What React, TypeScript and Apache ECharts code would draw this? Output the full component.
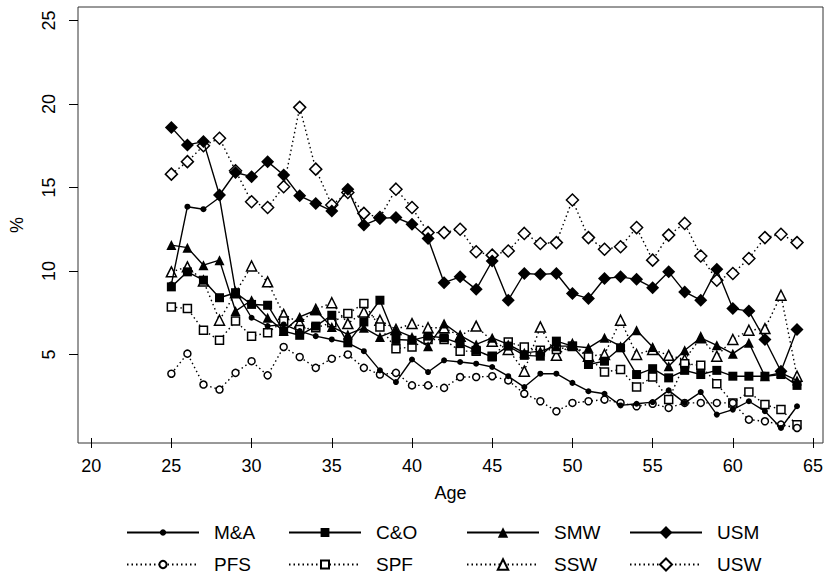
import React, { useEffect, useRef } from "react";
import * as echarts from "echarts";

const ages = [25,26,27,28,29,30,31,32,33,34,35,36,37,38,39,40,41,42,43,44,45,46,47,48,49,50,51,52,53,54,55,56,57,58,59,60,61,62,63,64];

const MA = [9.2,13.85,13.7,14.4,8.8,7.2,6.7,6.8,6.4,6.1,5.9,5.7,5.2,4.05,3.35,4.7,3.95,4.65,4.55,4.45,4.25,3.7,3.05,3.85,3.85,3.3,2.8,2.65,1.95,2.05,2.15,2.85,2.1,2.75,1.4,1.7,2.2,1.6,0.6,1.9];
const CO = [9.05,9.95,9.45,8.4,8.7,8.0,7.95,6.4,6.15,6.7,7.35,5.7,6.95,8.25,5.9,5.85,6.1,6.0,5.65,5.25,4.85,5.5,4.95,4.9,5.8,5.5,4.4,4.6,5.4,3.8,4.15,3.6,4.05,3.8,4.05,3.7,3.7,3.7,3.8,3.15];
const SMW = [11.55,11.4,10.35,10.65,7.6,8.25,7.2,6.4,7.25,7.65,6.65,6.2,6.6,6.05,6.45,6.05,5.5,6.85,6.15,5.6,6.0,5.6,5.1,5.2,5.5,5.5,5.4,6.0,5.5,6.45,5.45,4.3,5.25,6.0,5.55,5.05,5.7,3.7,3.9,3.45];
const USM = [18.6,17.55,17.75,14.55,15.9,15.65,16.55,15.75,14.5,14.05,13.6,14.9,12.75,13.15,13.2,12.8,11.95,9.3,9.65,8.9,10.6,8.25,9.85,9.8,9.85,8.65,8.35,9.55,9.65,9.5,9.0,9.95,8.75,8.25,10.1,7.75,7.6,5.9,4.0,6.5];
const PFS = [3.85,5.05,3.2,2.9,3.9,4.6,3.75,5.45,4.85,4.2,4.75,5.0,4.2,3.8,3.9,3.15,3.15,3.0,3.65,3.65,3.7,3.45,2.65,2.2,1.6,2.1,2.2,2.3,2.1,1.9,2.05,1.8,2.1,2.1,2.1,2.1,1.1,1.0,0.8,0.6];
const SPF = [7.85,7.75,6.45,5.85,7.0,6.1,6.3,7.0,6.5,6.6,6.9,7.45,8.05,6.65,5.35,5.45,5.9,5.9,5.2,5.2,4.9,5.75,5.45,5.25,5.3,5.5,4.85,3.95,4.1,3.05,3.65,2.3,4.45,4.35,3.25,2.1,2.75,2.0,1.7,0.8];
const SSW = [9.95,10.25,9.4,7.05,8.7,10.3,9.35,7.4,6.9,7.7,8.1,6.85,7.55,7.05,6.5,6.85,6.6,6.6,6.1,6.7,5.8,5.3,4.0,6.65,4.95,5.6,4.9,5.0,7.05,5.0,5.3,4.95,4.7,6.0,4.9,5.9,6.45,6.55,8.55,3.7];
const USW = [15.8,16.55,17.5,17.95,16.0,14.15,13.8,15.05,19.8,16.1,13.95,14.7,13.45,13.2,14.9,13.8,12.3,12.3,12.5,11.15,10.95,11.2,12.25,11.65,11.7,14.25,12.0,11.3,11.45,12.6,10.65,12.15,12.85,10.9,9.45,9.85,10.75,12.0,12.2,11.7];

const xTicks = [20,25,30,35,40,45,50,55,60,65];
const yTicks = [5,10,15,20,25];

const FONT = "'Liberation Sans', Arial, sans-serif";

type Spec = { name: string; values: number[]; symbol: string; size: number; filled: boolean; dotted: boolean };

const specs: Spec[] = [
  { name: "M&A", values: MA, symbol: "circle", size: 6, filled: true, dotted: false },
  { name: "C&O", values: CO, symbol: "rect", size: 9, filled: true, dotted: false },
  { name: "SMW", values: SMW, symbol: "triangle", size: 10, filled: true, dotted: false },
  { name: "USM", values: USM, symbol: "diamond", size: 13, filled: true, dotted: false },
  { name: "PFS", values: PFS, symbol: "circle", size: 7, filled: false, dotted: true },
  { name: "SPF", values: SPF, symbol: "rect", size: 8, filled: false, dotted: true },
  { name: "SSW", values: SSW, symbol: "triangle", size: 10, filled: false, dotted: true },
  { name: "USW", values: USW, symbol: "diamond", size: 12, filled: false, dotted: true },
];

const legendCols = [126, 288, 466, 629];
const legendRows = [523, 555];

export default function App() {
  const ref = useRef<HTMLDivElement>(null);
  useEffect(() => {
    if (!ref.current) return;
    const chart = echarts.init(ref.current, null, { renderer: "svg" });
    const series = specs.map((s, i) => ({
      type: "line",
      name: s.name,
      data: ages.map((a, j) => [a, s.values[j]]),
      symbol: s.symbol,
      symbolSize: s.size,
      showSymbol: true,
      z: 10 - i,
      lineStyle: { color: "#000", width: 1.4, type: s.dotted ? [1.5, 3] : "solid" },
      itemStyle: s.filled
        ? { color: "#000", borderColor: "#000", borderWidth: 0 }
        : { color: "#fff", borderColor: "#000", borderWidth: 1.5 },
      emphasis: { disabled: true },
    }));
    const legends = specs.map((s, i) => ({
      data: [s.name],
      left: legendCols[i % 4],
      top: legendRows[Math.floor(i / 4)],
      padding: 0,
      itemWidth: 72,
      itemHeight: Math.round(s.size / 0.8),
      selectedMode: false,
      textStyle: { fontSize: 19, fontFamily: FONT, color: "#000", padding: [0, 0, 0, 10] },
    }));
    chart.setOption({
      animation: false,
      backgroundColor: "#fff",
      grid: { left: 67, right: 3, top: 7, bottom: 136, show: true, borderColor: "#333", borderWidth: 1 },
      xAxis: {
        type: "value",
        min: 19.18,
        max: 65.62,
        name: "Age",
        nameLocation: "middle",
        nameGap: 41,
        nameTextStyle: { fontSize: 18, fontFamily: FONT, color: "#000" },
        axisLine: { show: false },
        axisTick: { show: true, length: 10, customValues: xTicks, lineStyle: { color: "#000" } },
        axisLabel: { customValues: xTicks, fontSize: 18, fontFamily: FONT, color: "#000", margin: 14 },
        splitLine: { show: false },
      },
      yAxis: {
        type: "value",
        min: -0.3,
        max: 25.81,
        name: "%",
        nameLocation: "middle",
        nameGap: 52,
        nameRotate: 90,
        nameTextStyle: { fontSize: 18, fontFamily: FONT, color: "#000" },
        axisLine: { show: false },
        axisTick: { show: true, length: 9, customValues: yTicks, lineStyle: { color: "#000" } },
        axisLabel: { customValues: yTicks, rotate: 90, fontSize: 18, fontFamily: FONT, color: "#000", margin: 20 },
        splitLine: { show: false },
      },
      legend: legends,
      series,
    });
    return () => chart.dispose();
  }, []);
  return <div ref={ref} style={{ width: 826, height: 579, position: "absolute", left: 0, top: 0 }} />;
}
